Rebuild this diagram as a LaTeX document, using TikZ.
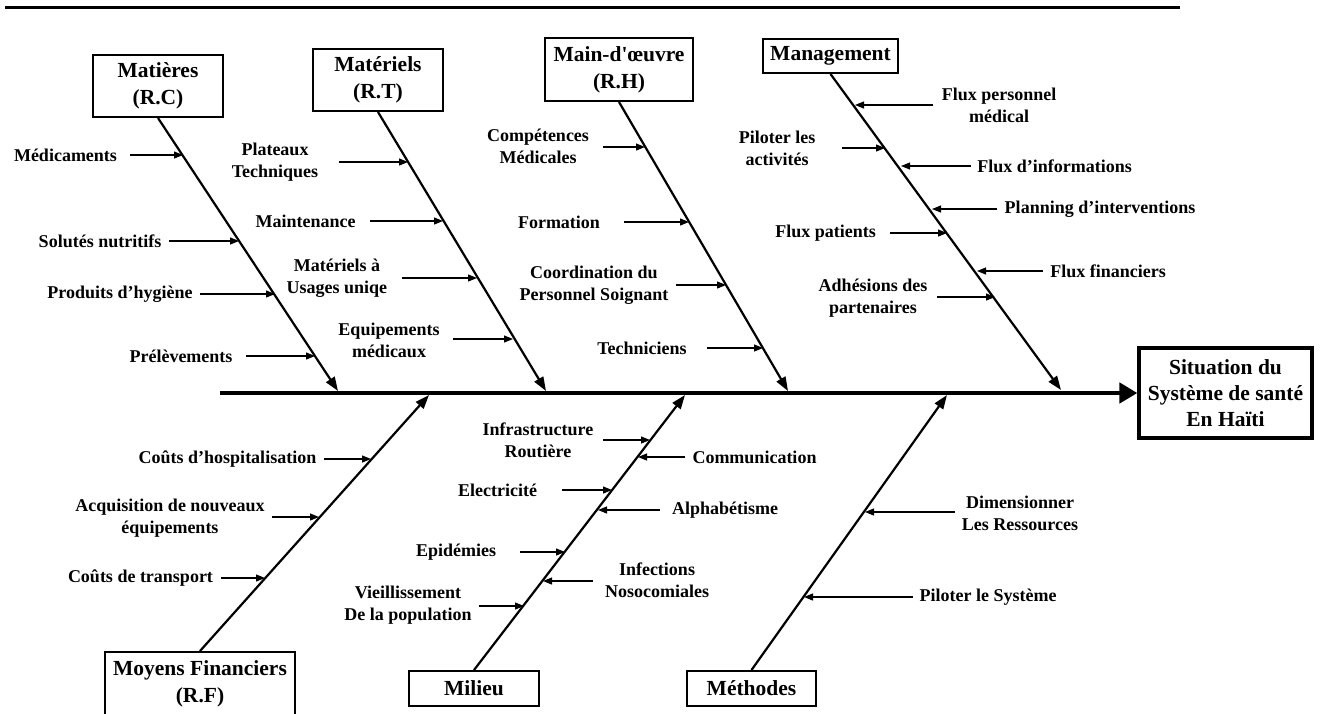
\documentclass[tikz,border=0pt]{standalone}
\usepackage{fontspec}
\setmainfont{Liberation Serif}
\usetikzlibrary{arrows.meta}
\tikzset{
  lab/.style={font=\fontsize{18}{22}\selectfont\bfseries, align=center, inner sep=0pt},
  cat/.style={draw, line width=2pt, font=\fontsize{21.5}{27}\selectfont\bfseries, align=center, inner sep=0pt},
  bone/.style={line width=2.2pt, -{Triangle[length=14pt,width=10pt]}},
  sub/.style={line width=1.2pt, -{Triangle[length=9pt,width=7pt]}},
  spine/.style={line width=4.5pt, -{Triangle[length=18pt,width=20pt]}},
}
\begin{document}
\begin{tikzpicture}[x=1pt,y=-1pt]
\clip (0,0) rectangle (1322,713);
% top rule
\coordinate (tl) at (5,7);
\coordinate (tr) at (1180,7);
\draw[line width=3pt] (tl) -- (tr);

% effect box and spine
\node[cat, line width=3.2pt, minimum width=173pt, minimum height=90pt, font=\fontsize{21.5}{26}\selectfont\bfseries] (eff) at (1225.5,393) {Situation du\\Système de santé\\En Haïti};
\coordinate (sp0) at (220,393);
\draw[spine] (sp0) -- (eff.west);

% category boxes
\node[cat, minimum width=130pt, minimum height=62pt] (cRC) at (158,86) {Matières\\(R.C)};
\node[cat, minimum width=130pt, minimum height=62pt] (cRT) at (378,80) {Matériels\\(R.T)};
\node[cat, minimum width=148pt, minimum height=63pt] (cRH) at (619,69.5) {Main-d\textquotesingle œuvre\\(R.H)};
\node[cat, minimum width=135pt, minimum height=34pt] (cMG) at (830.5,56) {Management};
\node[cat, minimum width=190pt, minimum height=64pt] (cRF) at (200,684) {Moyens Financiers\\(R.F)};
\node[cat, minimum width=130pt, minimum height=35pt] (cMI) at (474,688.5) {Milieu};
\node[cat, minimum width=129pt, minimum height=35pt] (cME) at (751.5,688.5) {Méthodes};

% bone tips on the spine
\coordinate (bRC) at (338,391);
\coordinate (bRT) at (546,391);
\coordinate (bRH) at (788,391);
\coordinate (bMG) at (1061,390);
\coordinate (bRF) at (429,395);
\coordinate (bMI) at (685,395);
\coordinate (bME) at (947,395);
\draw[bone] (cRC.south) -- (bRC);
\draw[bone] (cRT.south) -- (bRT);
\draw[bone] (cRH.south) -- (bRH);
\draw[bone] (cMG.south) -- (bMG);
\draw[bone] (cRF.north) -- (bRF);
\draw[bone] (cMI.north) -- (bMI);
\draw[bone] (cME.north) -- (bME);

% ---- Matières
\node[lab] (a1) at (65.5,155) {Médicaments};
\coordinate (a1s) at (130,155); \coordinate (a1t) at (183,155);
\node[lab] (a2) at (100,241) {Solutés nutritifs};
\coordinate (a2s) at (169,241); \coordinate (a2t) at (239,241);
\node[lab] (a3) at (120,294) {Produits d’hygiène};
\coordinate (a3s) at (200,294); \coordinate (a3t) at (275,294);
\node[lab] (a4) at (181,356) {Prélèvements};
\coordinate (a4s) at (246,356); \coordinate (a4t) at (315,356);
\foreach \i in {1,...,4} {\draw[sub] (a\i s) -- (a\i t);}

% ---- Matériels
\node[lab] (b1) at (275,162) {Plateaux\\Techniques};
\coordinate (b1s) at (339,162); \coordinate (b1t) at (408,162);
\node[lab] (b2) at (305.5,221) {Maintenance};
\coordinate (b2s) at (370,221); \coordinate (b2t) at (443,221);
\node[lab] (b3) at (337,278) {Matériels à\\Usages uniqe};
\coordinate (b3s) at (402,278); \coordinate (b3t) at (477,278);
\node[lab] (b4) at (389,340) {Equipements\\médicaux};
\coordinate (b4s) at (453,339); \coordinate (b4t) at (513,339);
\foreach \i in {1,...,4} {\draw[sub] (b\i s) -- (b\i t);}

% ---- Main-d'oeuvre
\node[lab] (c1) at (538,146) {Compétences\\Médicales};
\coordinate (c1s) at (603,147); \coordinate (c1t) at (645,147);
\node[lab] (c2) at (559,222) {Formation};
\coordinate (c2s) at (624,222); \coordinate (c2t) at (689,222);
\node[lab] (c3) at (594,285) {Coordination du\\Personnel Soignant};
\coordinate (c3s) at (676,285); \coordinate (c3t) at (726,285);
\node[lab] (c4) at (642,348) {Techniciens};
\coordinate (c4s) at (707,348); \coordinate (c4t) at (763,348);
\foreach \i in {1,...,4} {\draw[sub] (c\i s) -- (c\i t);}

% ---- Management
\node[lab] (d1) at (999,105) {Flux personnel\\médical};
\coordinate (d1s) at (933,105); \coordinate (d1t) at (855,105);
\node[lab] (d2) at (1054.5,166) {Flux d’informations};
\coordinate (d2s) at (971,166); \coordinate (d2t) at (901,166);
\node[lab] (d3) at (1100,209) {Planning d’interventions};
\coordinate (d3s) at (997,209); \coordinate (d3t) at (932,209);
\node[lab] (d4) at (1108,271) {Flux financiers};
\coordinate (d4s) at (1043,271); \coordinate (d4t) at (977,271);
\node[lab] (d5) at (777,148) {Piloter les\\activités};
\coordinate (d5s) at (842,148); \coordinate (d5t) at (885,148);
\node[lab] (d6) at (825.5,233) {Flux patients};
\coordinate (d6s) at (890,233); \coordinate (d6t) at (947,233);
\node[lab] (d7) at (873,298) {Adhésions des\\partenaires};
\coordinate (d7s) at (937,297); \coordinate (d7t) at (995,297);
\foreach \i in {1,...,7} {\draw[sub] (d\i s) -- (d\i t);}

% ---- Moyens Financiers
\node[lab] (e1) at (227.5,459) {Coûts d’hospitalisation};
\coordinate (e1s) at (324,459); \coordinate (e1t) at (371,459);
\node[lab] (e2) at (170,518) {Acquisition de nouveaux\\équipements};
\coordinate (e2s) at (272,517); \coordinate (e2t) at (319,517);
\node[lab] (e3) at (140.5,578) {Coûts de transport};
\coordinate (e3s) at (221,578); \coordinate (e3t) at (265,578);
\foreach \i in {1,...,3} {\draw[sub] (e\i s) -- (e\i t);}

% ---- Milieu
\node[lab] (f1) at (538,440) {Infrastructure\\Routière};
\coordinate (f1s) at (603,440); \coordinate (f1t) at (650,440);
\node[lab] (f2) at (497.5,490) {Electricité};
\coordinate (f2s) at (562,490); \coordinate (f2t) at (612,490);
\node[lab] (f3) at (456,552) {Epidémies};
\coordinate (f3s) at (520,552); \coordinate (f3t) at (565,552);
\node[lab] (f4) at (408,605) {Vieillissement\\De la population};
\coordinate (f4s) at (479,606); \coordinate (f4t) at (524,606);
\node[lab] (f5) at (754.5,457) {Communication};
\coordinate (f5s) at (685,457); \coordinate (f5t) at (638,457);
\node[lab] (f6) at (725,510) {Alphabétisme};
\coordinate (f6s) at (660,510); \coordinate (f6t) at (598,510);
\node[lab] (f7) at (657,580) {Infections\\Nosocomiales};
\coordinate (f7s) at (593,581); \coordinate (f7t) at (543,581);
\foreach \i in {1,...,7} {\draw[sub] (f\i s) -- (f\i t);}

% ---- Méthodes
\node[lab] (g1) at (1020,513) {Dimensionner\\Les Ressources};
\coordinate (g1s) at (955,512); \coordinate (g1t) at (865,512);
\node[lab] (g2) at (988,597) {Piloter le Système};
\coordinate (g2s) at (913,597); \coordinate (g2t) at (804,597);
\foreach \i in {1,2} {\draw[sub] (g\i s) -- (g\i t);}
\end{tikzpicture}
\end{document}
